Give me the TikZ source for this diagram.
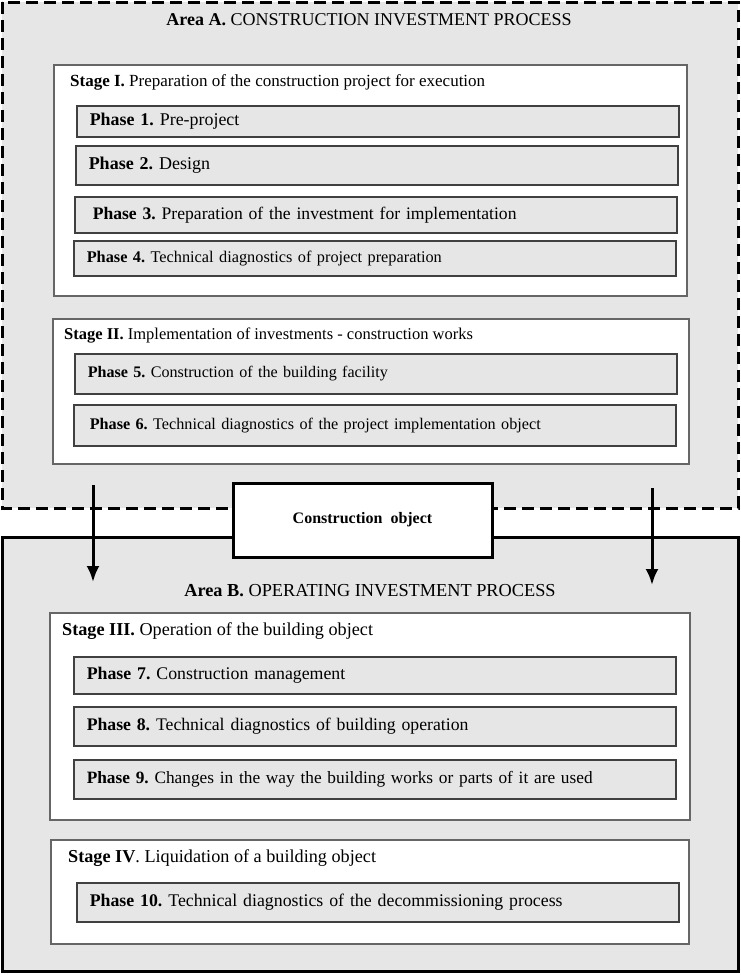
\documentclass[tikz,border=0pt]{standalone}
\usepackage{fontspec}
\setmainfont{Liberation Serif}
\usetikzlibrary{arrows.meta}

\definecolor{areagray}{HTML}{E6E6E6}
\frenchspacing

\tikzset{
    fsize/.style={font=\fontsize{#1}{20}\selectfont},
    areabox/.style={draw=black, fill=areagray, line width=3pt},
    stagebox/.style={draw=black!60, fill=white, line width=1.5pt},
    phasebox/.style={draw=black!75, fill=areagray, line width=1.5pt, anchor=north west,
        inner xsep=13pt, inner ysep=0pt, text width=576pt, align=left, fsize=16.3},
    stagelabel/.style={anchor=west, inner sep=0pt, fsize=17},
    arealabel/.style={inner sep=0pt, fsize=18},
    flow/.style={line width=3pt, -{Latex[length=16pt,width=13pt]}}
}

\begin{document}
\begin{tikzpicture}[x=1pt, y=-1pt]
    \useasboundingbox (0, 0) rectangle (740, 975);

    % area A
    \draw[areabox, dash pattern=on 12pt off 6pt] (2, 2) rectangle (738, 508);
    \node[arealabel] (areaA) at (369, 20) {\textbf{Area A.} CONSTRUCTION INVESTMENT PROCESS};

    \draw[stagebox] (54, 65) rectangle (687, 296);
    \node[stagelabel] (stI) at (70, 82) {\textbf{Stage I.} Preparation of the construction project for execution};
    \node[phasebox, minimum height=31pt, fsize=17.9] (ph1) at (76, 105) {\textbf{Phase 1.} Pre-project};
    \node[phasebox, minimum height=39pt, fsize=18] (ph2) at (75, 145) {\textbf{Phase 2.} Design};
    \node[phasebox, minimum height=36pt, fsize=17.6] (ph3) at (74, 196) {\hspace{5pt}\textbf{Phase 3.} Preparation of the investment for implementation};
    \node[phasebox, minimum height=35pt] (ph4) at (73, 240) {\textbf{Phase 4.} Technical diagnostics of project preparation};

    \draw[stagebox] (53, 319) rectangle (689, 464);
    \node[stagelabel, fsize=16.5] (stII) at (64, 336) {\textbf{Stage II.} Implementation of investments - construction works};
    \node[phasebox, minimum height=40pt, fsize=16.1] (ph5) at (74, 353) {\textbf{Phase 5.} Construction of the building facility};
    \node[phasebox, minimum height=41pt, fsize=16.2] (ph6) at (73, 404) {\hspace{3pt}\textbf{Phase 6.} Technical diagnostics of the project implementation object};

    % area B
    \draw[areabox] (2, 537) rectangle (738, 971);
    \node[arealabel, fsize=18.3] (areaB) at (370, 591) {\textbf{Area B.} OPERATING INVESTMENT PROCESS};

    \draw[stagebox] (50, 613) rectangle (690, 820);
    \node[stagelabel, fsize=18.2] (stIII) at (62, 631) {\textbf{Stage III.} Operation of the building object};
    \node[phasebox, minimum height=37pt, fsize=17.8] (ph7) at (73, 656) {\textbf{Phase 7.} Construction management};
    \node[phasebox, minimum height=39pt, fsize=17.7] (ph8) at (73, 706) {\textbf{Phase 8.} Technical diagnostics of building operation};
    \node[phasebox, minimum height=39pt, fsize=17.3] (ph9) at (73, 759) {\textbf{Phase 9.} Changes in the way the building works or parts of it are used};

    \draw[stagebox] (51, 840) rectangle (689, 944);
    \node[stagelabel, fsize=18.2] (stIV) at (68, 858) {\textbf{Stage IV}. Liquidation of a building object};
    \node[phasebox, minimum height=39pt, fsize=17.8] (ph10) at (76, 882) {\textbf{Phase 10.} Technical diagnostics of the decommissioning process};

    % construction object between the areas
    \node[draw=black, fill=white, line width=3pt, minimum width=259pt, minimum height=74pt,
        font=\bfseries\fontsize{16}{18}\selectfont] (obj) at (362.5, 520) {Construction~ object};

    \coordinate (lft) at (93, 485);
    \coordinate (lftend) at (93, 582);
    \coordinate (rgt) at (652, 488);
    \coordinate (rgtend) at (652, 585);
    \draw[flow] (lft) -- (lftend);
    \draw[flow] (rgt) -- (rgtend);
\end{tikzpicture}
\end{document}
